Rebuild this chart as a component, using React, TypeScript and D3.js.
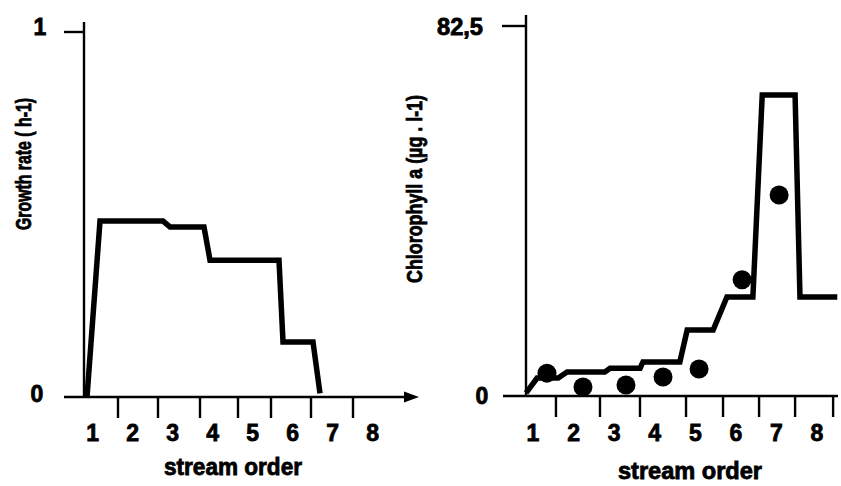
import * as d3 from "d3";

// stream order labels under each x axis
const orders = [1, 2, 3, 4, 5, 6, 7, 8];

// left panel: growth rate (h-1) along stream order
const growthX = [0.86, 1.185, 2.76, 2.935, 3.785, 3.935, 5.66, 5.76, 6.51, 6.685];
const growthRate = [0, 0.482, 0.482, 0.466, 0.466, 0.375, 0.375, 0.151, 0.151, 0.01];
const growthTicks = [1.635, 2.635, 3.685, 4.635, 5.46, 6.46, 7.51];

// right panel: chlorophyll a, modelled line + observed dots
const chlLineX = [0.83, 1.1, 1.62, 1.84, 2.77, 2.9, 3.64, 3.71, 4.62, 4.8, 5.44, 5.78, 6.42, 6.65, 7.46, 7.58, 8.5];
const chlLineY = [0.7, 4.0, 4.0, 5.35, 5.35, 6.2, 6.2, 7.6, 7.6, 14.7, 14.7, 22.1, 22.1, 67.1, 67.1, 22.1, 22.1];
const chlDotX = [1.344, 2.232, 3.292, 4.205, 5.093, 6.153, 7.066];
const chlDotY = [5.1, 2.0, 2.45, 4.24, 6.0, 25.9, 44.8];
const chlTicks = [1.566, 2.651, 3.637, 4.772, 5.684, 6.572, 7.46, 8.397];

const W = 841;
const H = 486;
const font = "'Liberation Sans', Arial, Helvetica, sans-serif";

export default function App() {
  // left panel scales
  const xL = d3.scaleLinear().domain([1, 8]).range([92.6, 372.6]);
  const yL = d3.scaleLinear().domain([0, 1]).range([397, 32]);
  // right panel scales
  const xR = d3.scaleLinear().domain([1, 8]).range([533, 817]);
  const yR = d3.scaleLinear().domain([0, 82.5]).range([396, 26]);

  const growthLine = d3
    .line<number>()
    .x((d, i) => xL(growthX[i]))
    .y((d) => yL(d))(growthRate);

  const chlLine = d3
    .line<number>()
    .x((d, i) => xR(chlLineX[i]))
    .y((d) => yR(d))(chlLineY);

  const axisStroke = 2.4;
  const tickLen = 21;
  // scanned text looks heavier than plain bold
  const textProps = { stroke: "#000", strokeWidth: 0.8 };

  return (
    <svg
      width={W}
      height={H}
      style={{ position: "absolute", left: 0, top: 0, background: "#fff" }}
      fontFamily={font}
      fontWeight="bold"
    >
      {/* ---------- left panel ---------- */}
      <g stroke="#000" strokeWidth={axisStroke} fill="none">
        <line x1={84} x2={84} y1={22} y2={yL(0)} />
        <line x1={64} x2={84} y1={yL(1)} y2={yL(1)} />
        <line x1={64} x2={406} y1={yL(0)} y2={yL(0)} />
        {growthTicks.map((t, i) => (
          <line key={i} x1={xL(t)} x2={xL(t)} y1={yL(0)} y2={yL(0) + tickLen} />
        ))}
      </g>
      <path
        d={`M404,${yL(0) - 5.5}L419,${yL(0)}L404,${yL(0) + 5.5}Z`}
        fill="#000"
      />
      <path d={growthLine ?? ""} fill="none" stroke="#000" strokeWidth={5.5} strokeLinejoin="miter" />
      <g {...textProps} fontSize={23} textAnchor="middle">
        <text x={40} y={35}>1</text>
        <text x={37} y={402}>0</text>
        {orders.map((o) => (
          <text key={o} x={xL(o)} y={441}>
            {o}
          </text>
        ))}
        <text
          transform="translate(23,164) rotate(-90)"
          fontSize={22}
          dominantBaseline="central"
          textLength={132}
          lengthAdjust="spacingAndGlyphs"
        >
          Growth rate ( h-1)
        </text>
        <text x={233} y={475} fontSize={23} textLength={138} lengthAdjust="spacingAndGlyphs">
          stream order
        </text>
      </g>

      {/* ---------- right panel ---------- */}
      <g stroke="#000" strokeWidth={axisStroke} fill="none">
        <line x1={526} x2={526} y1={15} y2={yR(0)} />
        <line x1={502} x2={526} y1={yR(82.5)} y2={yR(82.5)} />
        <line x1={503} x2={838} y1={yR(0)} y2={yR(0)} />
        {chlTicks.map((t, i) => (
          <line key={i} x1={xR(t)} x2={xR(t)} y1={yR(0)} y2={yR(0) + tickLen} />
        ))}
      </g>
      <path d={chlLine ?? ""} fill="none" stroke="#000" strokeWidth={5.5} strokeLinejoin="miter" />
      {chlDotX.map((x, i) => (
        <circle key={i} cx={xR(x)} cy={yR(chlDotY[i])} r={9.5} fill="#000" />
      ))}
      <g {...textProps} fontSize={23} textAnchor="middle">
        <text x={460} y={35} textLength={46} lengthAdjust="spacingAndGlyphs">82,5</text>
        <text x={482} y={404}>0</text>
        {orders.map((o) => (
          <text key={o} x={xR(o)} y={441}>
            {o}
          </text>
        ))}
        <text
          transform="translate(414,189) rotate(-90)"
          fontSize={22}
          dominantBaseline="central"
          textLength={188}
          lengthAdjust="spacingAndGlyphs"
        >
          Chlorophyll a (µg . l-1)
        </text>
        <text x={690} y={479} fontSize={23} textLength={144} lengthAdjust="spacingAndGlyphs">
          stream order
        </text>
      </g>
    </svg>
  );
}
